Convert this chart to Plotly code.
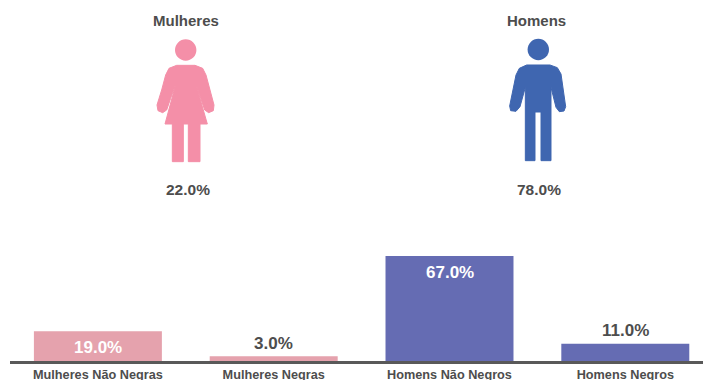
import plotly.graph_objects as go

categories = ["Mulheres Não Negras", "Mulheres Negras", "Homens Não Negros", "Homens Negros"]
values = [19.0, 3.0, 67.0, 11.0]
groups = ["Mulheres", "Homens"]
group_values = [22.0, 78.0]

W, H = 703, 380
PINK, BLUE = "#e5a2ad", "#656cb3"
INK = "#4d4d4d"
FONT = "Liberation Sans, Arial, sans-serif"
PX_PER_UNIT = 1.567
BASE = 361

def px(x): return x / W
def py(y): return 1 - y / H

def poly(points, ox):
    pts = [(px(ox + a / 3), py(b / 3)) for a, b in points]
    return "M" + " L".join(f"{a:.5f},{b:.5f}" for a, b in pts) + " Z"

woman = [(140,196),(195,196),(218,205),(228,225),(240,270),(252,315),(250,332),(236,338),(224,330),(212,295),(197,250),
         (232,372),(210,372),(210,485),(175,485),(175,372),(160,372),(160,485),(127,485),(127,372),(105,372),
         (138,250),(122,295),(110,330),(98,338),(84,332),(81,315),(95,270),(107,225),(117,205)]
man = [(140,195),(210,195),(232,203),(243,222),(257,320),(252,333),(238,335),(228,322),(213,262),(213,482),(183,482),(183,336),
       (165,336),(165,482),(136,482),(136,262),(120,320),(108,334),(92,332),(89,318),(108,225),(118,205)]

def icon(path, color):
    return dict(type="path", xref="paper", yref="paper", path=path, fillcolor=color, line=dict(color=color, width=1))

def head(cx, cy, r, color):
    return dict(type="circle", xref="paper", yref="paper", x0=px(cx-r), x1=px(cx+r), y0=py(cy+r), y1=py(cy-r),
                fillcolor=color, line=dict(width=0))

fig = go.Figure(go.Bar(x=categories, y=values, marker=dict(color=[PINK, PINK, BLUE, BLUE], line=dict(width=0)),
                       hoverinfo="x+y"))

annotations = []
for c, v in zip(categories, values):
    inside = v > 15
    annotations.append(dict(x=c, y=v, xref="x", yref="y", text=f"<b>{v:.1f}%</b>", showarrow=False, yanchor="middle",
                            xanchor="center", yshift=-16 if inside else 13,
                            font=dict(family=FONT, size=17, color="white" if inside else INK)))
for g, v, cx, cx2 in zip(groups, group_values, (185.5, 536.5), (188, 539)):
    annotations.append(dict(x=px(cx), y=py(21), xref="paper", yref="paper", text=f"<b>{g}</b>", showarrow=False,
                            xanchor="center", yanchor="middle", font=dict(family=FONT, size=15, color=INK)))
    annotations.append(dict(x=px(cx2), y=py(189.5), xref="paper", yref="paper", text=f"<b>{v:.1f}%</b>",
                            showarrow=False, xanchor="center", yanchor="middle",
                            font=dict(family=FONT, size=15.5, color=INK)))

fig.update_layout(
    width=W, height=H, autosize=False, margin=dict(l=0, r=0, t=0, b=0), paper_bgcolor="white", plot_bgcolor="white",
    showlegend=False, bargap=0.272, annotations=annotations,
    xaxis=dict(domain=[px(10), 1], range=[-0.5, 3.442], showgrid=False, zeroline=False, showline=True, linecolor="#595959",
               linewidth=3, ticks="", ticklabelstandoff=0, automargin=False,
               tickfont=dict(family=FONT, size=12.7, color=INK, weight="bold")),
    yaxis=dict(domain=[py(BASE), 1], range=[0, BASE / PX_PER_UNIT], visible=False, automargin=False),
    shapes=[icon(poly(woman, 130), "#f48fa8"), head(185.7, 50, 10.7, "#f48fa8"),
            icon(poly(man, 480), "#3f66b0"), head(538.3, 49.5, 10.7, "#3f66b0")],
)
fig.write_html("out.html", config={"displayModeBar": False},
               post_script="document.body.style.margin='0';document.body.style.overflow='hidden';")
